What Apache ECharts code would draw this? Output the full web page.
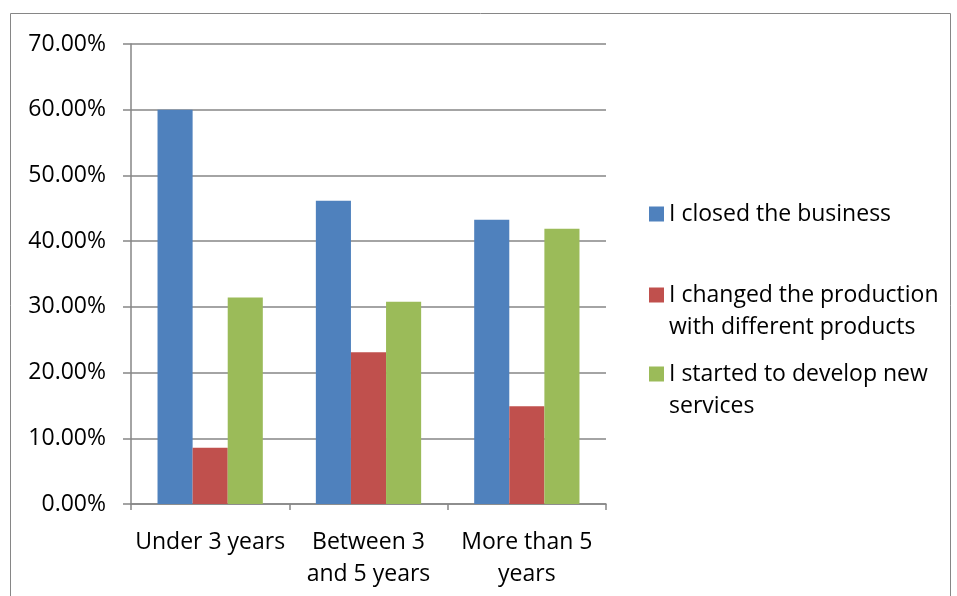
<!DOCTYPE html>
<html>
<head>
<meta charset="utf-8">
<script src="https://cdn.jsdelivr.net/npm/echarts@6/dist/echarts.min.js"></script>
<style>
  html, body { margin: 0; padding: 0; background: #fff; }
  #chart { width: 957px; height: 596px; }
</style>
</head>
<body>
<div id="chart"></div>
<script>
// data
var categories = ["Under 3 years", "Between 3\nand 5 years", "More than 5\nyears"];
var closedBusiness = [0.6, 0.4615, 0.4324];
var changedProduction = [0.0857, 0.2308, 0.1486];
var newServices = [0.3143, 0.3077, 0.4189];
var seriesNames = [
  "I closed the business",
  "I changed the production\nwith different products",
  "I started to develop new\nservices"
];
var colors = ["#4F81BD", "#C0504D", "#9BBB59"];

var FONT = "Open Sans";
var FS = 23;
var gridColor = "#868686";

var chart = echarts.init(document.getElementById("chart"));

// one legend per item so the icon lines up with the first text line
function legendFor(i, top) {
  return {
    orient: "vertical",
    left: 649,
    top: top,
    padding: 0,
    icon: "rect",
    itemWidth: 15,
    itemHeight: 15,
    selectedMode: false,
    data: [seriesNames[i]],
    formatter: function (name) {
      // blank line on top keeps the square beside the first line
      return name.indexOf("\n") >= 0 ? "\n" + name : name;
    },
    textStyle: { fontFamily: FONT, fontSize: FS, color: "#000", lineHeight: 32 }
  };
}

chart.setOption({
  animation: false,
  textStyle: { fontFamily: FONT },
  graphic: [{
    type: "rect",
    shape: { x: 10.5, y: 13.5, width: 940, height: 620 },
    style: { fill: "none", stroke: gridColor, lineWidth: 1 },
    silent: true
  }],
  legend: [
    legendFor(0, 198),
    legendFor(1, 247),
    legendFor(2, 326)
  ],
  grid: { left: 131, top: 44, right: 351, bottom: 92 },
  xAxis: {
    type: "category",
    data: categories,
    axisLine: { lineStyle: { color: gridColor, width: 1.5 } },
    axisTick: { show: true, length: 6, lineStyle: { color: gridColor, width: 1.5 } },
    axisLabel: {
      color: "#000",
      fontFamily: FONT,
      fontSize: FS,
      lineHeight: 32,
      margin: 22,
      interval: 0
    }
  },
  yAxis: {
    type: "value",
    min: 0,
    max: 0.7,
    interval: 0.1,
    axisLine: { show: true, lineStyle: { color: gridColor, width: 1.5 } },
    axisTick: { show: true, length: 8, lineStyle: { color: gridColor, width: 1.5 } },
    splitLine: { lineStyle: { color: gridColor, width: 1.5 } },
    axisLabel: {
      color: "#000",
      fontFamily: FONT,
      fontSize: FS,
      margin: 25,
      formatter: function (v) { return (v * 100).toFixed(2) + "%"; }
    }
  },
  series: [
    { name: seriesNames[0], type: "bar", data: closedBusiness, itemStyle: { color: colors[0] }, barGap: "0%", barCategoryGap: "33.5%" },
    { name: seriesNames[1], type: "bar", data: changedProduction, itemStyle: { color: colors[1] } },
    { name: seriesNames[2], type: "bar", data: newServices, itemStyle: { color: colors[2] } }
  ]
});
</script>
</body>
</html>
